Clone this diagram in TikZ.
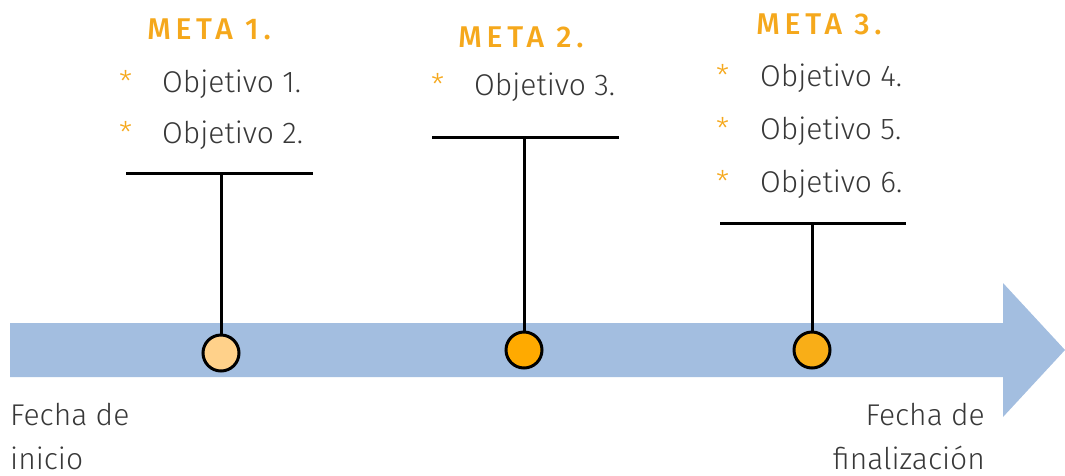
\documentclass[tikz,border=0pt]{standalone}
\usepackage{fontspec}
\setmainfont{Fira Sans}[UprightFont=* Light, BoldFont=* Medium]
\definecolor{band}{RGB}{163,190,224}
\definecolor{txt}{RGB}{56,56,56}
\definecolor{meta}{RGB}{245,168,28}
\definecolor{c1}{RGB}{255,209,138}
\definecolor{c2}{RGB}{255,170,0}
\definecolor{c3}{RGB}{249,174,23}
\tikzset{
  obj/.style={anchor=base west, inner sep=0pt, text=txt, font=\fontsize{30}{36}\selectfont},
  star/.style={anchor=base west, inner sep=0pt, text=meta, font=\fontsize{30}{36}\selectfont},
  title/.style={anchor=base, inner sep=0pt, text=meta, font=\fontsize{30}{36}\selectfont\bfseries\addfontfeature{LetterSpace=16}},
  dot/.style={circle, draw=black, line width=3pt, minimum size=36pt, inner sep=0pt},
  stem/.style={line width=3pt, draw=black},
  lbl/.style={inner sep=0pt, text=txt, font=\fontsize{30}{36}\selectfont}
}
\begin{document}
\begin{tikzpicture}[x=1pt,y=-1pt]
\useasboundingbox (0,0) rectangle (1065,475);
% arrow
\fill[band] (10,323) -- (1003,323) -- (1003,283) -- (1065,350) -- (1003,417) -- (1003,377) -- (10,377) -- cycle;
% bars
\coordinate (b1) at (221,173);
\coordinate (b2) at (524,137);
\coordinate (b3) at (812,223);
\draw[stem] (126,173) -- (313,173);
\draw[stem] (432,137) -- (619,137);
\draw[stem] (720,223) -- (906,223);
% circles
\node[dot, fill=c1] (d1) at (221,353) {};
\node[dot, fill=c2] (d2) at (524,350) {};
\node[dot, fill=c3] (d3) at (812,350) {};
\draw[stem] (d1) -- (b1);
\draw[stem] (d2) -- (b2);
\draw[stem] (d3) -- (b3);
% titles
\node[title] (t1) at (209,39) {META 1.};
\node[title] (t2) at (521,47) {META 2.};
\node[title] (t3) at (819,34) {META 3.};
% objectives
\node[star] (s1) at (119,92) {*};
\node[obj] (o1) at (162,92) {Objetivo 1.};
\node[star] (s2) at (119,143) {*};
\node[obj] (o2) at (162,143) {Objetivo 2.};
\node[star] (s3) at (431,95) {*};
\node[obj] (o3) at (474,95) {Objetivo 3.};
\node[star] (s4) at (716,86) {*};
\node[obj] (o4) at (760,86) {Objetivo 4.};
\node[star] (s5) at (716,139) {*};
\node[obj] (o5) at (760,139) {Objetivo 5.};
\node[star] (s6) at (716,192) {*};
\node[obj] (o6) at (760,192) {Objetivo 6.};
% dates
\node[lbl, anchor=base west] (f1) at (10,425) {Fecha de};
\node[lbl, anchor=base west] (f2) at (10,469) {inicio};
\node[lbl, anchor=base east] (g1) at (985,425) {Fecha de};
\node[lbl, anchor=base east] (g2) at (985,469) {finalización};
\end{tikzpicture}
\end{document}
